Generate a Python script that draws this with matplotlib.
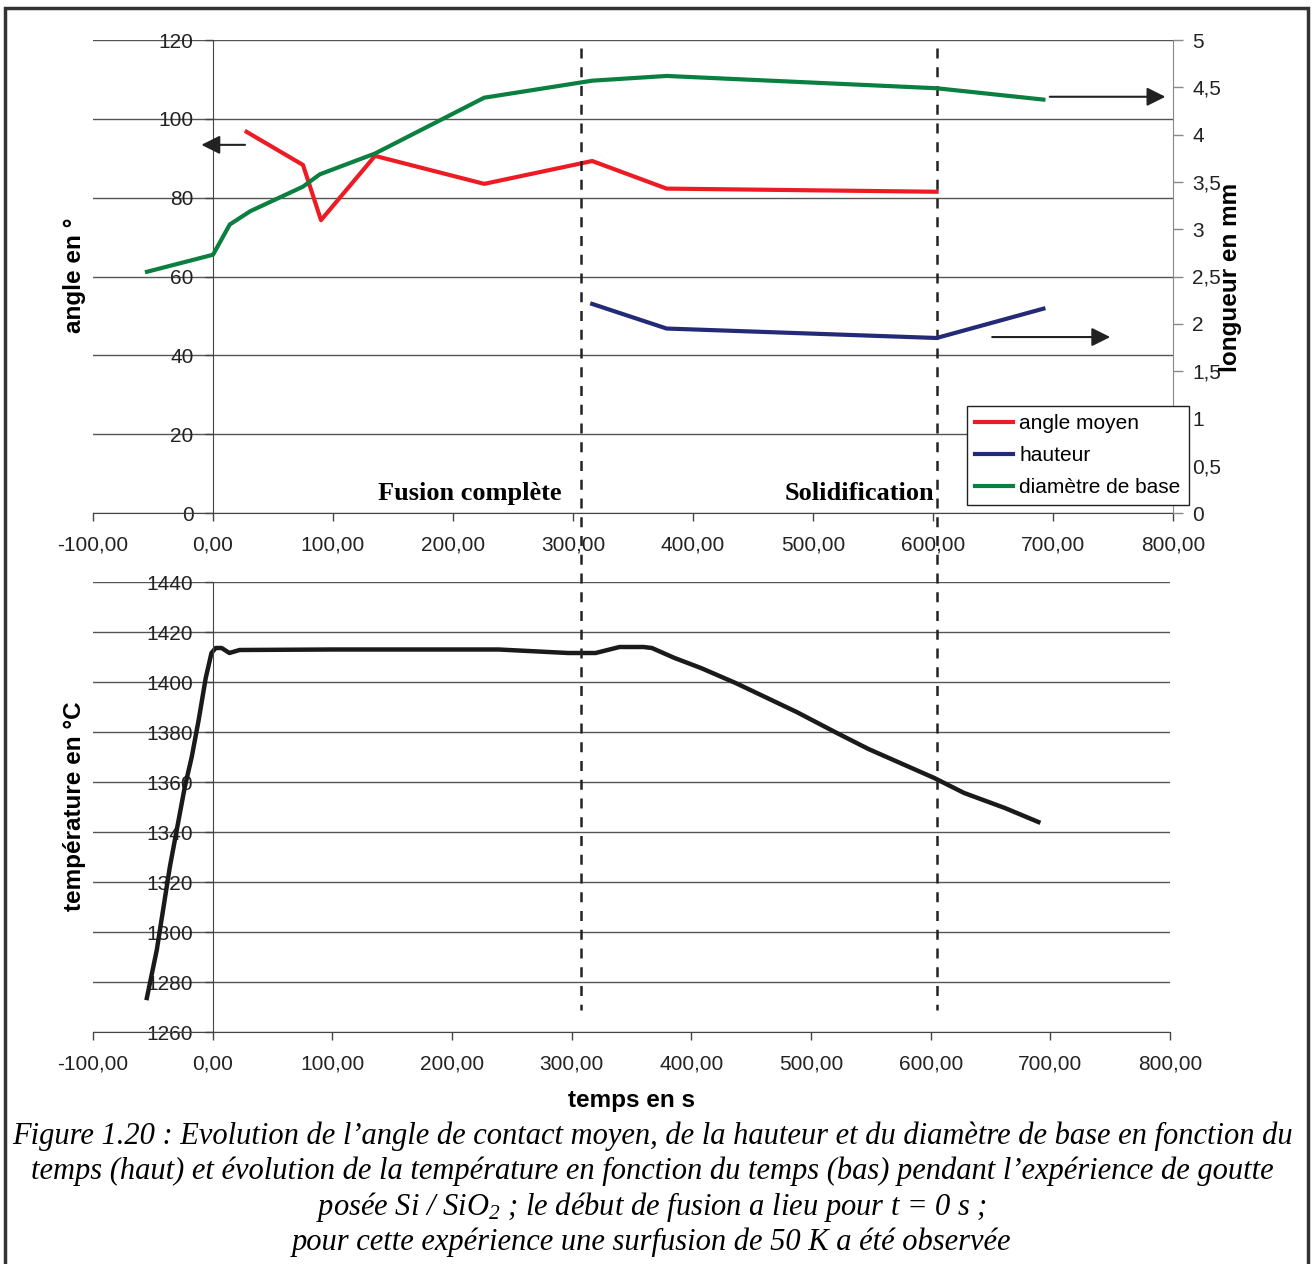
import matplotlib
matplotlib.use('Agg')
import matplotlib.pyplot as plt
from matplotlib.patches import Rectangle
from matplotlib.ticker import FuncFormatter, MultipleLocator

plt.rcParams['font.family'] = ['Liberation Sans', 'DejaVu Sans']
plt.rcParams['mathtext.fontset'] = 'custom'
plt.rcParams['mathtext.rm'] = 'Liberation Serif:italic'
plt.rcParams['mathtext.it'] = 'Liberation Serif:italic'

# angle moyen (axe gauche, en degrés)
angle_t = [28, 75, 90, 135, 226, 316, 378, 603]
angle_val = [96.7, 88.3, 74.3, 90.6, 83.5, 89.3, 82.3, 81.5]

# hauteur (axe droit, en mm)
haut_t = [316, 378, 603, 692]
haut_val = [2.21, 1.95, 1.85, 2.16]

# diamètre de base (axe droit, en mm)
diam_t = [-55, 0, 14, 31, 75, 89, 135, 226, 316, 378, 603, 692]
diam_val = [2.55, 2.73, 3.05, 3.19, 3.45, 3.58, 3.80, 4.39, 4.57, 4.62, 4.49, 4.37]

# température (graphe du bas)
temp_t = [-55, -46.7, -35.8, -23.3, -17.5, -11.7, -5.8, -1, 2.5, 7.5, 14, 22.5,
          100, 200, 239, 297, 320, 340, 360, 367, 386, 408, 437, 488, 520, 548,
          603, 628, 662, 690]
temp_val = [1273.6, 1292.8, 1326, 1358, 1370, 1384.8, 1401.6, 1411.6, 1413.6, 1413.6,
            1411.6, 1412.8, 1413, 1413, 1413, 1411.6, 1411.6, 1414, 1414, 1413.6,
            1409.6, 1405.6, 1399.6, 1388, 1380, 1373.2, 1361.6, 1355.6, 1349.6, 1344]

# limites des phases (lignes pointillées)
phases_t = [307, 603]
phases_txt = ['Fusion complète', 'Solidification']
phases_txt_t = [214, 539]

x_ticks = list(range(-100, 801, 100))

W, H = 1313, 1264
fig = plt.figure(figsize=(W / 100, H / 100), dpi=100)

ax2 = fig.add_axes([93 / W, 1 - 1032 / H, 1077 / W, 450 / H])
ax1 = fig.add_axes([93 / W, 1 - 513 / H, 1080 / W, 473 / H])
ax1r = ax1.twinx()

fmt_x = FuncFormatter(lambda v, p: f"{v:.2f}".replace('.', ','))
fmt_r = FuncFormatter(lambda v, p: f"{v:g}".replace('.', ','))

# ---- graphe du haut ----
ax1.plot(angle_t, angle_val, color='#ed1c24', lw=3, label='angle moyen')
l_h, = ax1r.plot(haut_t, haut_val, color='#232a78', lw=3, label='hauteur')
l_d, = ax1r.plot(diam_t, diam_val, color='#0a7f3f', lw=3, label='diamètre de base')

ax1.set_xlim(-100, 800)
ax1.set_ylim(0, 120)
ax1r.set_ylim(0, 5)
ax1.set_xticks(x_ticks)
ax1.xaxis.set_major_formatter(fmt_x)
ax1.yaxis.set_major_locator(MultipleLocator(20))
ax1r.yaxis.set_major_locator(MultipleLocator(0.5))
ax1r.yaxis.set_major_formatter(fmt_r)

for ax in (ax1, ax2):
    ax.spines['top'].set_visible(False)
    ax.spines['right'].set_visible(False)
    ax.spines['left'].set_position(('data', 0))
    ax.spines['left'].set_color('#444')
    ax.spines['bottom'].set_color('#444')
    ax.grid(axis='y', color='#555', lw=1)
    ax.set_axisbelow(True)
    ax.tick_params(direction='out', length=6, width=1, colors='#444',
                   labelcolor='#222', labelsize=15)
    ax.tick_params(axis='x', pad=10)
    ax.tick_params(axis='y', pad=8)

for s in ('left', 'top', 'bottom'):
    ax1r.spines[s].set_visible(False)
ax1r.spines['right'].set_color('#888')
ax1r.tick_params(direction='out', length=7, width=1, colors='#888',
                 labelcolor='#222', labelsize=15, pad=7)

for t, txt in zip(phases_txt_t, phases_txt):
    ax1.text(t, 5.0, txt, ha='center', va='center', fontsize=19,
             fontweight='bold', family='Liberation Serif')

# flèches vers les axes
ax1.annotate('', xy=(-12, 93.4), xytext=(29, 93.4),
             arrowprops=dict(arrowstyle='-|>', color='#222', lw=1.5, mutation_scale=28))
ax1r.annotate('', xy=(796, 4.40), xytext=(695, 4.40),
              arrowprops=dict(arrowstyle='-|>', color='#222', lw=1.5, mutation_scale=28))
ax1r.annotate('', xy=(750, 1.86), xytext=(647, 1.86),
              arrowprops=dict(arrowstyle='-|>', color='#222', lw=1.5, mutation_scale=28))

# ---- graphe du bas ----
ax2.patch.set_visible(False)
ax2.plot(temp_t, temp_val, color='#1a1a1a', lw=3.2)
ax2.set_xlim(-100, 800)
ax2.set_ylim(1260, 1440)
ax2.set_xticks(x_ticks)
ax2.xaxis.set_major_formatter(fmt_x)
ax2.yaxis.set_major_locator(MultipleLocator(20))

# pointillés traversant les deux graphes
for t in phases_t:
    ax1.plot([t, t], [118, -126], color='#222', lw=1.8, ls=(0, (4, 3.5)),
             clip_on=False, zorder=5)

# légende
fig.legend(handles=[ax1.lines[0], l_h, l_d], loc='upper left',
           bbox_to_anchor=(967 / W, 1 - 406 / H), fontsize=15, frameon=True,
           fancybox=False, edgecolor='#222', framealpha=1, handlelength=1.8,
           handletextpad=0.3, labelspacing=0.62, borderpad=0.4, borderaxespad=0)

# titres des axes
fig.text(75 / W, 1 - 275 / H, 'angle en °', rotation=90, ha='center', va='center',
         fontsize=17.5, fontweight='bold')
fig.text(1230 / W, 1 - 277 / H, 'longueur en mm', rotation=90, ha='center', va='center',
         fontsize=17.5, fontweight='bold')
fig.text(75 / W, 1 - 806 / H, 'température en °C', rotation=90, ha='center', va='center',
         fontsize=17.5, fontweight='bold')
fig.text(632 / W, 1 - 1100 / H, 'temps en s', ha='center', va='center',
         fontsize=17.5, fontweight='bold')

# légende de la figure
caption = [
    "Figure 1.20 : Evolution de l’angle de contact moyen, de la hauteur et du diamètre de base en fonction du",
    "temps (haut) et évolution de la température en fonction du temps (bas) pendant l’expérience de goutte",
    "posée Si / SiO$_2$ ; le début de fusion a lieu pour t = 0 s ;",
    "pour cette expérience une surfusion de 50 K a été observée",
]
for i, line in enumerate(caption):
    fig.text(652 / W, 1 - (1136 + 35.5 * i) / H, line, ha='center', va='center',
             fontsize=22, family='Liberation Serif', style='italic')

# cadre
fig.add_artist(Rectangle((5 / W, -0.01), 1303 / W, 1.01 - 8 / H, transform=fig.transFigure,
                         fill=False, edgecolor='#333', lw=2.5))

fig.savefig('out.png', dpi=100)
